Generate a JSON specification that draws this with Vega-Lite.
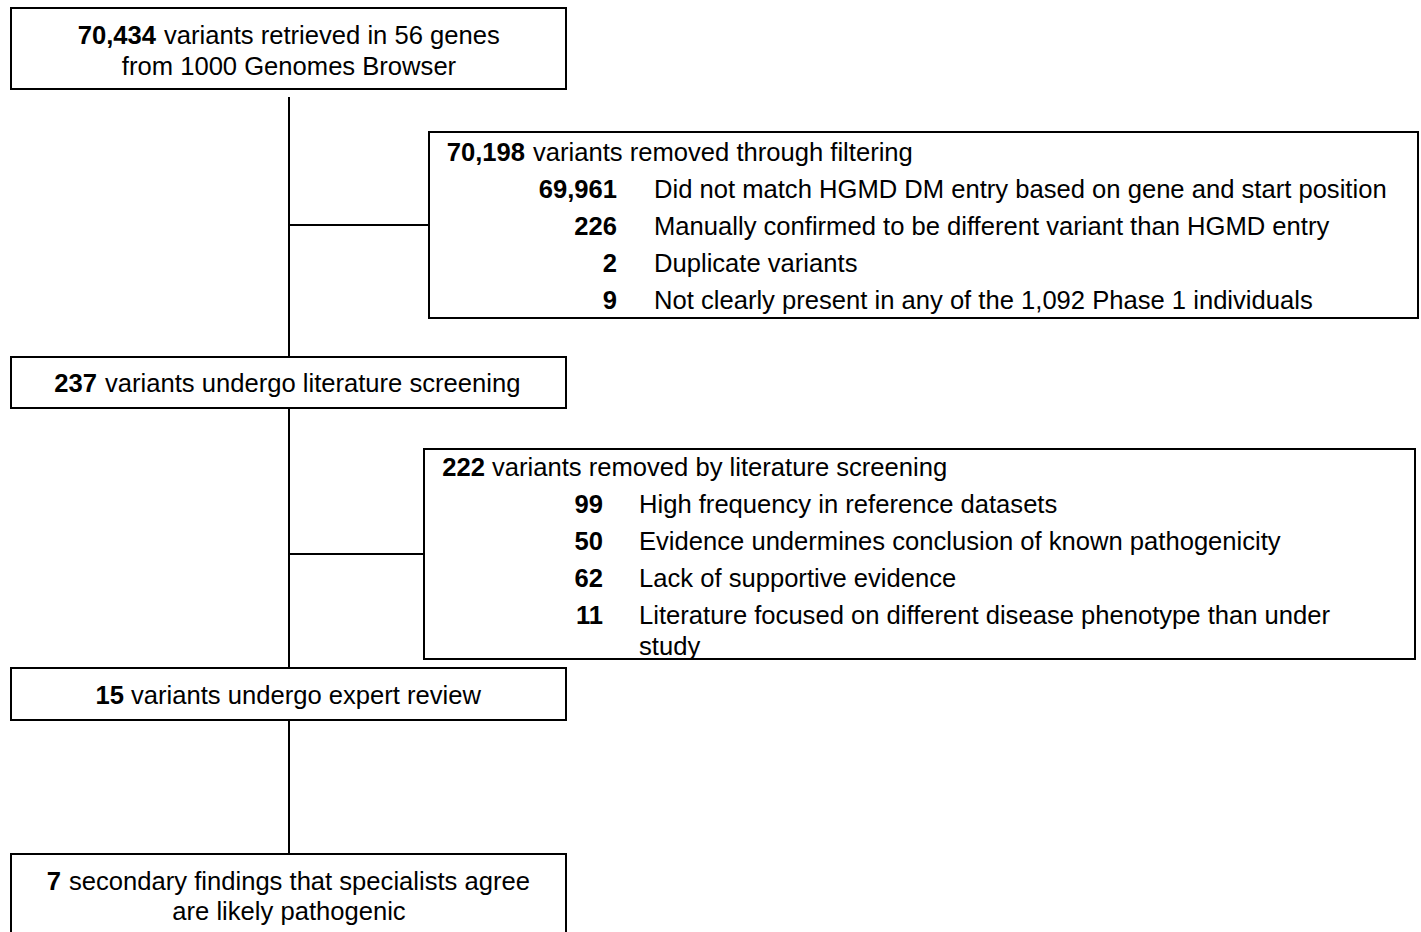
{
  "$schema": "https://vega.github.io/schema/vega-lite/v6.json",
  "width": 1421,
  "height": 932,
  "autosize": {"type": "fit", "contains": "padding"},
  "padding": 0,
  "background": "white",
  "config": {"view": {"stroke": null}, "text": {"font": "Liberation Sans", "fontSize": 25.6, "color": "#000000", "baseline": "middle", "dy": 1}},
  "datasets": {
    "boxes": [
      {"x1": 11, "x2": 566, "y1": 8, "y2": 89},
      {"x1": 429, "x2": 1418, "y1": 132, "y2": 318},
      {"x1": 11, "x2": 566, "y1": 357, "y2": 408},
      {"x1": 424, "x2": 1415, "y1": 449, "y2": 659},
      {"x1": 11, "x2": 566, "y1": 668, "y2": 720},
      {"x1": 11, "x2": 566, "y1": 854, "y2": 960}
    ],
    "links": [
      {"x1": 289, "x2": 289, "y1": 97, "y2": 357},
      {"x1": 289, "x2": 429, "y1": 225, "y2": 225},
      {"x1": 289, "x2": 289, "y1": 408, "y2": 668},
      {"x1": 289, "x2": 424, "y1": 554, "y2": 554},
      {"x1": 289, "x2": 289, "y1": 720, "y2": 854}
    ],
    "numbers": [
      {"x": 156, "y": 35, "t": "70,434"},
      {"x": 525, "y": 152, "t": "70,198"},
      {"x": 617, "y": 189, "t": "69,961"},
      {"x": 617, "y": 226, "t": "226"},
      {"x": 617, "y": 263, "t": "2"},
      {"x": 617, "y": 300, "t": "9"},
      {"x": 97, "y": 383, "t": "237"},
      {"x": 485, "y": 467, "t": "222"},
      {"x": 603, "y": 504, "t": "99"},
      {"x": 603, "y": 541, "t": "50"},
      {"x": 603, "y": 578, "t": "62"},
      {"x": 603, "y": 615, "t": "11"},
      {"x": 124, "y": 695, "t": "15"},
      {"x": 61, "y": 881, "t": "7"}
    ],
    "labels": [
      {"x": 164, "y": 35, "t": "variants retrieved in 56 genes"},
      {"x": 533, "y": 152, "t": "variants removed through filtering"},
      {"x": 654, "y": 189, "t": "Did not match HGMD DM entry based on gene and start position"},
      {"x": 654, "y": 226, "t": "Manually confirmed to be different variant than HGMD entry"},
      {"x": 654, "y": 263, "t": "Duplicate variants"},
      {"x": 654, "y": 300, "t": "Not clearly present in any of the 1,092 Phase 1 individuals"},
      {"x": 105, "y": 383, "t": "variants undergo literature screening"},
      {"x": 492, "y": 467, "t": "variants removed by literature screening"},
      {"x": 639, "y": 504, "t": "High frequency in reference datasets"},
      {"x": 639, "y": 541, "t": "Evidence undermines conclusion of known pathogenicity"},
      {"x": 639, "y": 578, "t": "Lack of supportive evidence"},
      {"x": 639, "y": 615, "t": "Literature focused on different disease phenotype than under"},
      {"x": 639, "y": 646, "t": "study"},
      {"x": 131, "y": 695, "t": "variants undergo expert review"},
      {"x": 69, "y": 881, "t": "secondary findings that specialists agree"}
    ],
    "centered": [
      {"x": 289, "y": 66, "t": "from 1000 Genomes Browser"},
      {"x": 289, "y": 911, "t": "are likely pathogenic"}
    ]
  },
  "layer": [
    {
      "data": {"name": "boxes"},
      "mark": {"type": "rect", "fill": "white", "stroke": "#000000", "strokeWidth": 2, "clip": true},
      "encoding": {
        "x": {"field": "x1", "type": "quantitative", "scale": {"domain": [0, 1421], "nice": false, "zero": false}, "axis": null},
        "x2": {"field": "x2"},
        "y": {"field": "y1", "type": "quantitative", "scale": {"domain": [0, 932], "nice": false, "zero": false, "reverse": true}, "axis": null},
        "y2": {"field": "y2"}
      }
    },
    {
      "data": {"name": "links"},
      "mark": {"type": "rule", "stroke": "#000000", "strokeWidth": 2},
      "encoding": {
        "x": {"field": "x1", "type": "quantitative"},
        "x2": {"field": "x2"},
        "y": {"field": "y1", "type": "quantitative"},
        "y2": {"field": "y2"}
      }
    },
    {
      "data": {"name": "numbers"},
      "mark": {"type": "text", "align": "right", "fontWeight": "bold"},
      "encoding": {
        "x": {"field": "x", "type": "quantitative"},
        "y": {"field": "y", "type": "quantitative"},
        "text": {"field": "t"}
      }
    },
    {
      "data": {"name": "labels"},
      "mark": {"type": "text", "align": "left"},
      "encoding": {
        "x": {"field": "x", "type": "quantitative"},
        "y": {"field": "y", "type": "quantitative"},
        "text": {"field": "t"}
      }
    },
    {
      "data": {"name": "centered"},
      "mark": {"type": "text", "align": "center"},
      "encoding": {
        "x": {"field": "x", "type": "quantitative"},
        "y": {"field": "y", "type": "quantitative"},
        "text": {"field": "t"}
      }
    }
  ]
}
